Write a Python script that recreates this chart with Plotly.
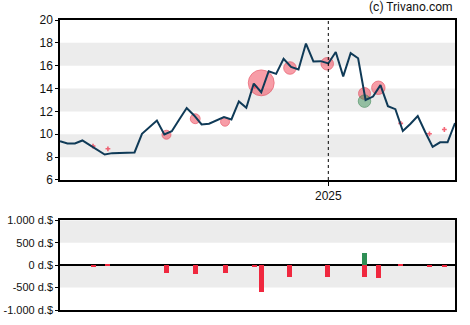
import plotly.graph_objects as go
import pandas as pd

# Weekly closing prices (USD)
start_date = "2024-04-24"
close = [9.4, 9.19, 9.2, 9.46, 9.05, 8.65, 8.23, 8.35, 8.38, 8.4,
         8.41, 10.04, 10.6, 11.2, 9.98, 10.27, 11.3, 12.3, 11.65, 10.86,
         10.92, 11.2, 11.5, 11.3, 12.87, 12.32, 14.44, 13.68, 15.52, 15.29,
         16.6, 15.9, 15.67, 17.94, 16.37, 16.4, 16.2, 17.2, 15.07, 17.1,
         16.65, 13.0, 13.3, 14.3, 12.46, 12.2, 10.29, 10.9, 11.6, 10.2,
         8.9, 9.3, 9.3, 10.98]
weeks = pd.date_range(start_date, periods=len(close), freq="7D")

# Insider sales: date, price, value (thousand USD)
sell_dates = ["2024-05-25", "2024-06-08", "2024-08-02", "2024-08-29", "2024-09-26",
              "2024-10-24", "2024-10-30", "2024-11-26", "2024-12-31", "2025-02-04",
              "2025-02-17", "2025-03-10", "2025-04-06", "2025-04-20"]
sell_price = [8.96, 8.73, 9.96, 11.36, 11.1, 14.2, 14.5, 15.8, 16.17, 13.57,
              14.07, 10.95, 10.04, 10.42]
sell_value = [-55, -30, -187, -210, -187, -55, -610, -276, -276, -261,
              -298, -30, -55, -55]

# Insider purchases
buy_dates = ["2025-02-04"]
buy_price = [12.9]
buy_value = [275]

y_ticks_bottom = [-1000, -500, 0, 500, 1000]
y_labels_bottom = ["-1.000 d.$", "-500 d.$", "0 d.$", "500 d.$", "1.000 d.$"]

line_color = "#0f3a57"
red_fill = "rgba(240,50,72,0.68)"
red_rim = "rgba(225,45,65,0.8)"
red_small = "#f0283f"
green_fill = "rgba(50,140,80,0.68)"
green_rim = "rgba(45,125,70,0.8)"
bar_red = "#f0283f"
bar_green = "#2f8f55"
font = dict(family="Liberation Sans, Arial, sans-serif", size=12, color="#111")


def bubble_size(v):
    a = abs(v)
    return 4 if a < 100 else a / 25 + 1.5


def bubble_symbol(v):
    return "cross" if abs(v) < 100 else "circle"


fig = go.Figure()

# Transaction bubbles sit beneath the price line
fig.add_trace(go.Scatter(
    x=sell_dates, y=sell_price, mode="markers",
    marker=dict(size=[bubble_size(v) for v in sell_value],
                symbol=[bubble_symbol(v) for v in sell_value],
                color=[red_small if abs(v) < 100 else red_fill for v in sell_value],
                line=dict(width=[0 if abs(v) < 100 else 1 for v in sell_value],
                          color=red_rim)),
    xaxis="x", yaxis="y", showlegend=False))

fig.add_trace(go.Scatter(
    x=buy_dates, y=buy_price, mode="markers",
    marker=dict(size=[bubble_size(v) for v in buy_value], color=green_fill,
                line=dict(width=1, color=green_rim)),
    xaxis="x", yaxis="y", showlegend=False))

fig.add_trace(go.Scatter(
    x=weeks, y=close, mode="lines",
    line=dict(color=line_color, width=2), xaxis="x", yaxis="y",
    hoverinfo="skip", showlegend=False))

bar_w = 4.7 * 86400000
fig.add_trace(go.Bar(
    x=sell_dates, y=sell_value, marker=dict(color=bar_red, line=dict(width=0)),
    width=[bar_w] * len(sell_dates), xaxis="x2", yaxis="y2", showlegend=False))
fig.add_trace(go.Bar(
    x=buy_dates, y=buy_value, marker=dict(color=bar_green, line=dict(width=0)),
    width=[bar_w] * len(buy_dates), xaxis="x2", yaxis="y2", showlegend=False))

shapes = []
# Alternating bands on the price panel
for lo, hi in [(8, 10), (12, 14), (16, 18)]:
    shapes.append(dict(type="rect", xref="x domain", yref="y", x0=0, x1=1,
                       y0=lo, y1=hi, fillcolor="#ececec", line=dict(width=0),
                       layer="below"))
# Bands on the transaction panel
for lo, hi in [(500, 1000), (-500, 0)]:
    shapes.append(dict(type="rect", xref="x2 domain", yref="y2", x0=0, x1=1,
                       y0=lo, y1=hi, fillcolor="#ececec", line=dict(width=0),
                       layer="below"))
# Year boundary
shapes.append(dict(type="line", xref="x", yref="y", x0="2025-01-01", x1="2025-01-01",
                   y0=6, y1=20, line=dict(color="#000", width=1, dash="dot")))

x_range = [weeks[0], weeks[-1]]
axis_common = dict(showgrid=False, showline=True, linecolor="#000", linewidth=1.5,
                   mirror=True, automargin=False)

fig.update_layout(
    width=470, height=325,
    margin=dict(l=60, r=15, t=20, b=15),
    paper_bgcolor="white", plot_bgcolor="white",
    font=font, barmode="overlay", bargap=0,
    shapes=shapes,
    xaxis=dict(domain=[0, 1], anchor="y", range=x_range, type="date",
               tickvals=["2025-01-01"], ticktext=["2025"], ticks="outside",
               ticklen=4, tickcolor="#000", zeroline=False, **axis_common),
    yaxis=dict(domain=[0.4483, 1], anchor="x", range=[6, 20], dtick=2,
               ticks="outside", ticklen=3, tickcolor="#000", zeroline=False,
               **axis_common),
    xaxis2=dict(domain=[0, 1], anchor="y2", range=x_range, type="date",
                showticklabels=False, ticks="", zeroline=False, **axis_common),
    yaxis2=dict(domain=[0, 0.3093], anchor="x2", range=[-1000, 1000],
                tickvals=y_ticks_bottom, ticktext=y_labels_bottom,
                ticks="outside", ticklen=3, tickcolor="#000",
                zeroline=True, zerolinecolor="#000", zerolinewidth=1.5,
                tickfont=dict(size=11), **axis_common),
    annotations=[dict(text="(c) Trivano.com", xref="paper", yref="paper",
                      x=1, y=1, yshift=4, xanchor="right", yanchor="bottom",
                      showarrow=False,
                      font=dict(family="Roboto, sans-serif", size=12, color="#111"))],
)

fig.write_html("out.html")
